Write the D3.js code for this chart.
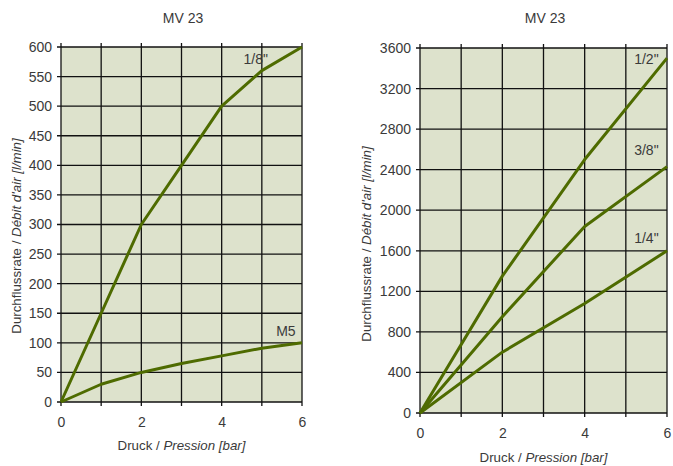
<!DOCTYPE html>
<html>
<head>
<meta charset="utf-8">
<script src="https://cdn.jsdelivr.net/npm/d3@7"></script>
<style>
  html, body { margin: 0; padding: 0; background: #fff; }
  svg { display: block; font-family: "Liberation Sans", Arial, sans-serif; }
</style>
</head>
<body>
<svg id="chart" width="673" height="466"></svg>
<script>
// Pressure values (bar)
const pressureLeft = [0, 1, 2, 3, 4, 5, 6];
const pressureRight = [0, 2, 4, 6];

// Flow rates (l/min), small connections
const flow18 = [0, 150, 300, 400, 500, 560, 600];
const flowM5 = [0, 30, 50, 65, 78, 91, 100];

// Flow rates (l/min), large connections
const flow12 = [0, 1350, 2500, 3500];
const flow38 = [0, 950, 1840, 2430];
const flow14 = [0, 600, 1080, 1600];

const xTicks = [0, 2, 4, 6];
const yTicksLeft = [0, 50, 100, 150, 200, 250, 300, 350, 400, 450, 500, 550, 600];
const yTicksRight = [0, 400, 800, 1200, 1600, 2000, 2400, 2800, 3200, 3600];

const title = "MV 23";

const svg = d3.select("#chart");
const textColor = "#3a3a3a";
const lineColor = "#4e6b00";
const bgColor = "#dde2cc";

function panel(opts) {
  const { left, right, top, bottom, yMax, yTicks, series, labels, yLabelX, yLabelY, xLabelY, titleX } = opts;
  const x = d3.scaleLinear().domain([0, 6]).range([left, right]);
  const y = d3.scaleLinear().domain([0, yMax]).range([bottom, top]);
  const g = svg.append("g");

  g.append("rect")
    .attr("x", left).attr("y", top)
    .attr("width", right - left).attr("height", bottom - top)
    .attr("fill", bgColor);

  // grid
  g.append("g").selectAll("line")
    .data(d3.range(0, 7))
    .join("line")
    .attr("x1", d => x(d)).attr("x2", d => x(d))
    .attr("y1", top - 4).attr("y2", bottom + 4)
    .attr("stroke", "#111").attr("stroke-width", 1.3);
  g.append("g").selectAll("line")
    .data(yTicks)
    .join("line")
    .attr("x1", left - 4).attr("x2", right)
    .attr("y1", d => y(d)).attr("y2", d => y(d))
    .attr("stroke", "#111").attr("stroke-width", 1.3);

  // axis labels (lines come from the grid)
  const yAxis = d3.axisLeft(y).tickValues(yTicks).tickFormat(d3.format("d")).tickSize(0).tickPadding(9);
  g.append("g").attr("transform", `translate(${left},0)`).call(yAxis)
    .call(a => a.select(".domain").remove())
    .call(a => a.selectAll("text").attr("fill", textColor).style("font-size", "14px"));
  const xAxis = d3.axisBottom(x).tickValues(xTicks).tickFormat(d3.format("d")).tickSize(0).tickPadding(15);
  g.append("g").attr("transform", `translate(0,${bottom})`).call(xAxis)
    .call(a => a.select(".domain").remove())
    .call(a => a.selectAll("text").attr("fill", textColor).style("font-size", "14px"));

  // series
  const line = d3.line().x(d => x(d[0])).y(d => y(d[1]));
  series.forEach(s => {
    g.append("path")
      .datum(s.px.map((p, i) => [p, s.v[i]]))
      .attr("d", line)
      .attr("fill", "none")
      .attr("stroke", lineColor)
      .attr("stroke-width", 3)
      .attr("stroke-linejoin", "round");
  });

  labels.forEach(l => {
    g.append("text")
      .attr("x", x(l.px)).attr("y", y(l.v))
      .attr("text-anchor", "middle")
      .attr("fill", textColor)
      .style("font-size", "14px")
      .text(l.t);
  });

  // title
  g.append("text")
    .attr("x", titleX).attr("y", 23)
    .attr("text-anchor", "middle").attr("fill", textColor)
    .style("font-size", "14px").text(title);

  // x label
  const xl = g.append("text")
    .attr("x", (left + right) / 2).attr("y", xLabelY)
    .attr("text-anchor", "middle").attr("fill", textColor)
    .style("font-size", "13.3px");
  xl.append("tspan").text("Druck / ");
  xl.append("tspan").style("font-style", "italic").text("Pression [bar]");

  // y label
  const yl = g.append("text")
    .attr("transform", `translate(${yLabelX},${yLabelY}) rotate(-90)`)
    .attr("text-anchor", "middle").attr("fill", textColor)
    .style("font-size", "13.3px");
  yl.append("tspan").text("Durchflussrate / ");
  yl.append("tspan").style("font-style", "italic").text("Débit d'air [l/min]");
}

panel({
  left: 61, right: 302, top: 47, bottom: 402, yMax: 600,
  yTicks: yTicksLeft, yLabelX: 21, yLabelY: 236, xLabelY: 450, titleX: 183,
  series: [
    { px: pressureLeft, v: flow18 },
    { px: pressureLeft, v: flowM5 }
  ],
  labels: [
    { t: "1/8\"", px: 4.85, v: 572 },
    { t: "M5", px: 5.6, v: 112 }
  ]
});

panel({
  left: 420, right: 667, top: 48, bottom: 413, yMax: 3600,
  yTicks: yTicksRight, yLabelX: 371, yLabelY: 244, xLabelY: 462, titleX: 545,
  series: [
    { px: pressureRight, v: flow12 },
    { px: pressureRight, v: flow38 },
    { px: pressureRight, v: flow14 }
  ],
  labels: [
    { t: "1/2\"", px: 5.5, v: 3440 },
    { t: "3/8\"", px: 5.5, v: 2540 },
    { t: "1/4\"", px: 5.5, v: 1680 }
  ]
});
</script>
</body>
</html>
